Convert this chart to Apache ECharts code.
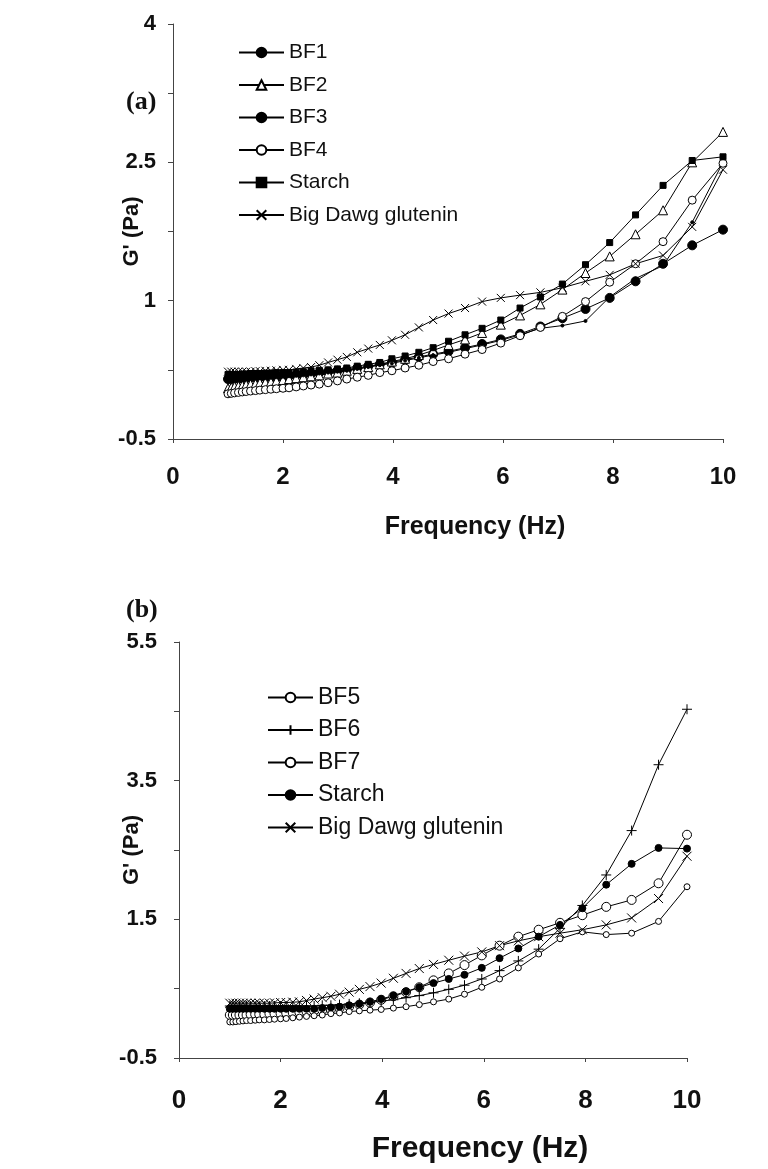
<!DOCTYPE html>
<html>
<head>
<meta charset="utf-8">
<script src="https://cdn.jsdelivr.net/npm/echarts@6/dist/echarts.min.js"></script>
<style>
html, body { margin: 0; padding: 0; background: #fff; }
#chart { width: 768px; height: 1169px; }
</style>
</head>
<body>
<div id="chart"></div>
<script>
// frequency sweep points (Hz), same for every series
var freq = [1.00, 1.06, 1.12, 1.19, 1.26, 1.33, 1.41, 1.50, 1.58, 1.68, 1.78, 1.88, 2.00, 2.11, 2.24, 2.37, 2.51, 2.66, 2.82, 2.99,
            3.16, 3.35, 3.55, 3.76, 3.98, 4.22, 4.47, 4.73, 5.01, 5.31, 5.62, 5.96, 6.31, 6.68, 7.08, 7.50, 7.94, 8.41, 8.91, 9.44, 10.0];

// panel (a)
var bf1 = [0.15, 0.15, 0.155, 0.155, 0.16, 0.16, 0.165, 0.165, 0.17, 0.17, 0.175, 0.18, 0.185, 0.19, 0.195, 0.20, 0.21, 0.22, 0.23, 0.24,
           0.25, 0.27, 0.29, 0.31, 0.33, 0.36, 0.39, 0.42, 0.45, 0.49, 0.53, 0.58, 0.64, 0.72, 0.81, 0.91, 1.03, 1.21, 1.40, 1.60, 1.77];
var bf2 = [0.05, 0.06, 0.07, 0.075, 0.08, 0.09, 0.095, 0.10, 0.11, 0.115, 0.12, 0.13, 0.14, 0.15, 0.16, 0.17, 0.18, 0.19, 0.21, 0.22,
           0.24, 0.26, 0.28, 0.31, 0.34, 0.37, 0.41, 0.46, 0.52, 0.58, 0.65, 0.74, 0.84, 0.96, 1.12, 1.30, 1.48, 1.72, 1.98, 2.50, 2.83];
var bf3 = [0.14, 0.14, 0.145, 0.145, 0.15, 0.15, 0.155, 0.155, 0.16, 0.16, 0.165, 0.17, 0.175, 0.18, 0.185, 0.19, 0.20, 0.21, 0.22, 0.23,
           0.24, 0.26, 0.28, 0.30, 0.32, 0.35, 0.38, 0.41, 0.44, 0.48, 0.52, 0.57, 0.63, 0.70, 0.73, 0.78, 1.04, 1.24, 1.38, 1.85, 2.50];
var bf4 = [-0.01, -0.005, 0.0, 0.005, 0.01, 0.015, 0.02, 0.025, 0.03, 0.035, 0.04, 0.045, 0.05, 0.055, 0.065, 0.075, 0.085, 0.095, 0.11, 0.13,
           0.15, 0.17, 0.19, 0.22, 0.24, 0.27, 0.30, 0.34, 0.37, 0.42, 0.47, 0.54, 0.62, 0.71, 0.83, 0.99, 1.20, 1.40, 1.64, 2.09, 2.49];
var starchA = [0.20, 0.20, 0.20, 0.20, 0.205, 0.205, 0.21, 0.21, 0.21, 0.215, 0.215, 0.22, 0.22, 0.22, 0.225, 0.23, 0.24, 0.245, 0.25, 0.26,
               0.27, 0.29, 0.31, 0.33, 0.37, 0.40, 0.44, 0.49, 0.56, 0.63, 0.70, 0.79, 0.92, 1.04, 1.18, 1.39, 1.63, 1.93, 2.25, 2.52, 2.56];
var glutA = [0.23, 0.23, 0.23, 0.23, 0.23, 0.23, 0.23, 0.235, 0.235, 0.24, 0.24, 0.245, 0.25, 0.25, 0.26, 0.27, 0.28, 0.30, 0.33, 0.36,
             0.39, 0.44, 0.48, 0.52, 0.57, 0.63, 0.71, 0.79, 0.86, 0.92, 0.99, 1.03, 1.06, 1.09, 1.14, 1.21, 1.28, 1.40, 1.49, 1.80, 2.42];

// panel (b)
var bf5 = [0.12, 0.12, 0.12, 0.12, 0.12, 0.12, 0.13, 0.13, 0.13, 0.13, 0.14, 0.14, 0.14, 0.15, 0.15, 0.16, 0.17, 0.18, 0.19, 0.20,
           0.22, 0.24, 0.27, 0.30, 0.34, 0.39, 0.45, 0.52, 0.62, 0.72, 0.84, 0.98, 1.12, 1.25, 1.35, 1.45, 1.56, 1.68, 1.78, 2.02, 2.72];
var bf6 = [0.25, 0.25, 0.25, 0.25, 0.25, 0.25, 0.25, 0.25, 0.25, 0.25, 0.25, 0.25, 0.25, 0.25, 0.25, 0.25, 0.25, 0.25, 0.26, 0.26,
           0.27, 0.28, 0.29, 0.30, 0.32, 0.34, 0.37, 0.40, 0.44, 0.49, 0.55, 0.64, 0.76, 0.90, 1.07, 1.37, 1.70, 2.14, 2.78, 3.73, 4.53];
var bf7 = [0.02, 0.02, 0.025, 0.03, 0.035, 0.04, 0.04, 0.045, 0.05, 0.05, 0.055, 0.06, 0.065, 0.07, 0.08, 0.09, 0.10, 0.11, 0.12, 0.14,
           0.15, 0.17, 0.18, 0.19, 0.20, 0.22, 0.24, 0.27, 0.31, 0.35, 0.42, 0.52, 0.64, 0.80, 1.00, 1.22, 1.32, 1.28, 1.30, 1.47, 1.97];
var starchB = [0.21, 0.21, 0.21, 0.21, 0.21, 0.21, 0.21, 0.21, 0.21, 0.21, 0.21, 0.21, 0.21, 0.21, 0.21, 0.21, 0.21, 0.21, 0.22, 0.23,
               0.24, 0.26, 0.28, 0.31, 0.35, 0.40, 0.46, 0.52, 0.58, 0.64, 0.70, 0.80, 0.94, 1.08, 1.25, 1.42, 1.66, 2.00, 2.30, 2.53, 2.52];
var glutB = [0.29, 0.29, 0.29, 0.29, 0.29, 0.29, 0.29, 0.29, 0.29, 0.29, 0.29, 0.295, 0.30, 0.30, 0.305, 0.31, 0.33, 0.35, 0.37, 0.39,
             0.42, 0.45, 0.49, 0.53, 0.58, 0.65, 0.72, 0.79, 0.85, 0.91, 0.97, 1.03, 1.12, 1.19, 1.25, 1.30, 1.35, 1.42, 1.52, 1.80, 2.41];

var xTicks = [0, 2, 4, 6, 8, 10];
var yTicksA = [-0.5, 1, 2.5, 4];
var yTicksB = [-0.5, 1.5, 3.5, 5.5];

var font = 'Liberation Sans, Arial, sans-serif';
var crossPath = 'path://M0,0L10,10M10,0L0,10';
var plusPath = 'path://M5,0L5,10M0,5L10,5';

function pairs(vals) {
    return freq.map(function (f, i) { return [f, vals[i]]; });
}

// one line series, black line, marker style given
function line(name, vals, idx, symbol, size, open) {
    return {
        name: name,
        type: 'line',
        xAxisIndex: idx,
        yAxisIndex: idx,
        data: pairs(vals),
        symbol: symbol,
        symbolSize: size,
        showAllSymbol: true,
        lineStyle: { color: '#000', width: 1 },
        itemStyle: { color: open ? '#fff' : '#000', borderColor: '#000', borderWidth: 1 },
        emphasis: { disabled: true }
    };
}

function xAxisOf(idx, labelSize, labelMargin, nameGap, namePad, nameSize) {
    return {
        gridIndex: idx, type: 'value', min: 0, max: 10, interval: 2,
        name: 'Frequency (Hz)', nameLocation: 'middle', nameGap: nameGap, nameMoveOverlap: false,
        nameTextStyle: { fontFamily: font, fontWeight: 'bold', fontSize: nameSize, color: '#111', padding: [0, 0, 0, namePad] },
        axisLine: { onZero: false, lineStyle: { color: '#444', width: 1 } },
        axisTick: { show: true, length: 4, lineStyle: { color: '#444' } },
        axisLabel: { fontFamily: font, fontWeight: 'bold', fontSize: labelSize, color: '#111', margin: labelMargin,
            formatter: function (v) { return xTicks.indexOf(v) >= 0 ? String(v) : ''; } },
        splitLine: { show: false }
    };
}

function yAxisOf(idx, min, max, step, labels, margin, nameGap) {
    return {
        gridIndex: idx, type: 'value', min: min, max: max, interval: step,
        name: "G' (Pa)", nameLocation: 'middle', nameGap: nameGap, nameMoveOverlap: false,
        nameTextStyle: { fontFamily: font, fontWeight: 'bold', fontSize: 22, color: '#111' },
        axisLine: { show: true, onZero: false, lineStyle: { color: '#444', width: 1 } },
        axisTick: { show: true, length: 5, lineStyle: { color: '#444' } },
        axisLabel: { fontFamily: font, fontWeight: 'bold', fontSize: 22, color: '#111', margin: margin,
            formatter: function (v) { return labels.indexOf(+v.toFixed(2)) >= 0 ? String(+v.toFixed(2)) : ''; } },
        splitLine: { show: false }
    };
}

var chart = echarts.init(document.getElementById('chart'), null, { renderer: 'canvas' });
chart.setOption({
    animation: false,
    backgroundColor: '#fff',
    title: [
        { text: '(a)', left: 121, top: 84, textStyle: { fontFamily: 'Liberation Serif, Times New Roman, serif', fontWeight: 'bold', fontSize: 26, color: '#111' } },
        { text: '(b)', left: 121, top: 592, textStyle: { fontFamily: 'Liberation Serif, Times New Roman, serif', fontWeight: 'bold', fontSize: 26, color: '#111' } }
    ],
    grid: [
        { left: 173, right: 45, top: 24, height: 415 },
        { left: 179, right: 81, top: 642, height: 416 }
    ],
    legend: [
        { orient: 'vertical', left: 233, top: 37, itemWidth: 45, itemHeight: 12, itemGap: 11.5, selectedMode: false,
          textStyle: { fontFamily: font, fontSize: 21, color: '#111', lineHeight: 21 },
          data: ['BF1', 'BF2', 'BF3', 'BF4', 'Starch', 'Big Dawg glutenin'] },
        { orient: 'vertical', left: 262, top: 681, itemWidth: 45, itemHeight: 12, itemGap: 9.5, selectedMode: false,
          textStyle: { fontFamily: font, fontSize: 23, color: '#111', lineHeight: 21 },
          data: ['BF5', 'BF6', 'BF7', 'Starch ', 'Big Dawg glutenin '] }
    ],
    xAxis: [
        xAxisOf(0, 24, 26, 76, 54, 25),
        xAxisOf(1, 26, 30, 76, 94, 30)
    ],
    yAxis: [
        yAxisOf(0, -0.5, 4, 0.75, yTicksA, 17, 30),
        yAxisOf(1, -0.5, 5.5, 1, yTicksB, 22, 36)
    ],
    series: [
        line('BF1', bf1, 0, 'circle', 9, false),
        line('BF2', bf2, 0, 'triangle', 9, true),
        line('BF3', bf3, 0, 'circle', 3, false),
        line('BF4', bf4, 0, 'circle', 8, true),
        line('Starch', starchA, 0, 'rect', 6, false),
        line('Big Dawg glutenin', glutA, 0, crossPath, 8, false),
        line('BF5', bf5, 1, 'circle', 9, true),
        line('BF6', bf6, 1, plusPath, 10, false),
        line('BF7', bf7, 1, 'circle', 6, true),
        line('Starch ', starchB, 1, 'circle', 7, false),
        line('Big Dawg glutenin ', glutB, 1, crossPath, 9, false)
    ]
});
</script>
</body>
</html>
